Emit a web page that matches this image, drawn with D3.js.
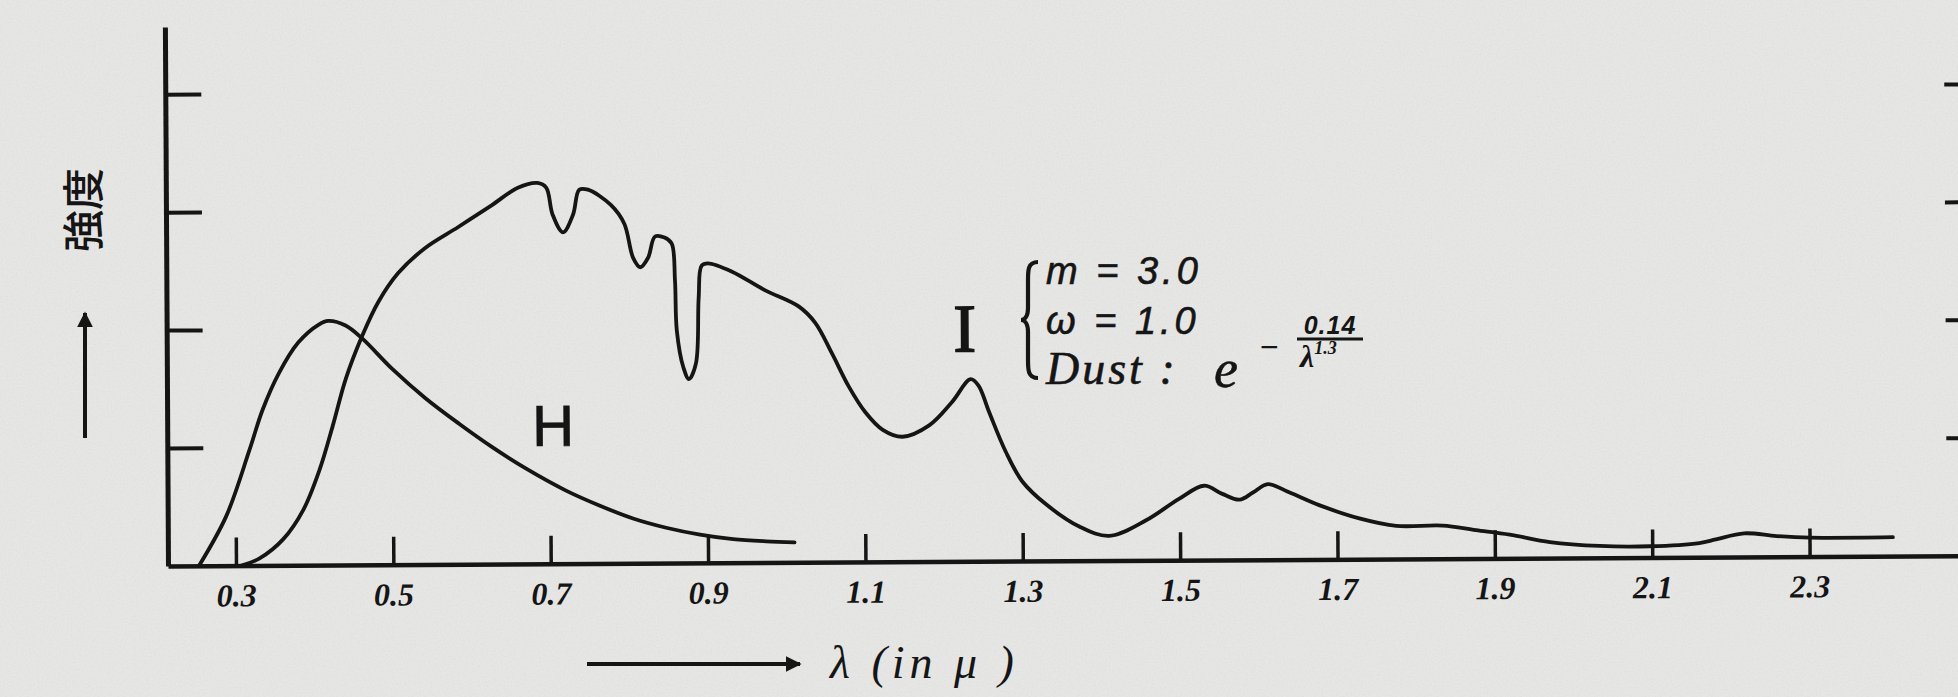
<!DOCTYPE html>
<html>
<head>
<meta charset="utf-8">
<script src="https://cdn.jsdelivr.net/npm/d3@7"></script>
<style>
  html, body { margin: 0; padding: 0; background: #e7e7e5; }
  svg { display: block; }
</style>
</head>
<body>
<script>
// Wavelength ticks (micron) and their printed labels
const xTickValues = [0.3, 0.5, 0.7, 0.9, 1.1, 1.3, 1.5, 1.7, 1.9, 2.1, 2.3];
const xTickLabels = ["0.3", "0.5", "0.7", "0.9", "1.1", "1.3", "1.5", "1.7", "1.9", "2.1", "2.3"];
const yTickValues = [1, 2, 3, 4];

// Curve H
const hLambda = [0.253, 0.288, 0.318, 0.335, 0.356, 0.381, 0.407, 0.419, 0.441, 0.462, 0.5, 0.542, 0.585, 0.627, 0.669, 0.72, 0.763, 0.805, 0.847, 0.89, 0.932, 0.974, 1.01];
const hValue  = [0, 0.42, 0.98, 1.32, 1.63, 1.89, 2.04, 2.07, 2.03, 1.92, 1.66, 1.41, 1.19, 0.99, 0.81, 0.62, 0.49, 0.38, 0.30, 0.24, 0.20, 0.18, 0.17];

// Curve I (m = 3.0, w = 1.0, dust-reddened)
const iLambda = [0.307, 0.33, 0.36, 0.386, 0.407, 0.424, 0.441, 0.462, 0.483, 0.508, 0.542, 0.585, 0.627, 0.661, 0.686, 0.697, 0.705, 0.718, 0.731, 0.739, 0.75, 0.779, 0.796, 0.807, 0.816, 0.826, 0.835, 0.847, 0.856, 0.86, 0.862, 0.87, 0.877, 0.886, 0.89, 0.894, 0.902, 0.932, 0.974, 1.017, 1.038, 1.059, 1.08, 1.101, 1.123, 1.148, 1.182, 1.211, 1.235, 1.245, 1.258, 1.279, 1.3, 1.33, 1.372, 1.41, 1.457, 1.499, 1.531, 1.554, 1.576, 1.593, 1.612, 1.639, 1.677, 1.728, 1.775, 1.834, 1.876, 1.919, 1.97, 2.033, 2.097, 2.16, 2.181, 2.217, 2.258, 2.3, 2.406];
const iValue  = [0, 0.06, 0.22, 0.47, 0.81, 1.18, 1.58, 1.94, 2.23, 2.47, 2.68, 2.86, 3.04, 3.19, 3.23, 3.19, 2.96, 2.81, 2.96, 3.17, 3.17, 3.04, 2.88, 2.59, 2.51, 2.59, 2.77, 2.76, 2.71, 2.40, 1.97, 1.66, 1.56, 1.69, 2.25, 2.52, 2.54, 2.47, 2.31, 2.17, 2.03, 1.77, 1.49, 1.27, 1.12, 1.06, 1.155, 1.35, 1.545, 1.49, 1.27, 0.93, 0.675, 0.48, 0.29, 0.21, 0.34, 0.52, 0.63, 0.56, 0.51, 0.57, 0.64, 0.57, 0.46, 0.345, 0.28, 0.28, 0.24, 0.20, 0.135, 0.10, 0.095, 0.12, 0.15, 0.20, 0.175, 0.16, 0.16];

const W = 1958, H = 697;
const ink = "#151515";
const serif = "'Liberation Serif', serif";
const sans = "'Liberation Sans', sans-serif";

const svg = d3.select("body").append("svg")
  .attr("width", W).attr("height", H);

// paper with a faint grain
const defs = svg.append("defs");
const grain = defs.append("filter").attr("id", "grain")
  .attr("x", 0).attr("y", 0).attr("width", "100%").attr("height", "100%");
grain.append("feTurbulence").attr("type", "fractalNoise")
  .attr("baseFrequency", 0.55).attr("numOctaves", 2).attr("seed", 7);
grain.append("feColorMatrix").attr("type", "matrix")
  .attr("values", "0 0 0 0 0.45  0 0 0 0 0.45  0 0 0 0 0.44  0 0 0 -0.9 0.55");

svg.append("rect").attr("width", W).attr("height", H).attr("fill", "#e6e6e4");
svg.append("rect").attr("width", W).attr("height", H).attr("filter", "url(#grain)").attr("opacity", 0.25);

defs.append("marker").attr("id", "head")
  .attr("viewBox", "0 0 10 10").attr("refX", 9).attr("refY", 5)
  .attr("markerWidth", 4).attr("markerHeight", 4).attr("orient", "auto")
  .append("path").attr("d", "M0,0 L10,5 L0,10 Z").attr("fill", ink);

const x = d3.scaleLinear().domain([0.2136, 2.5]).range([168, 1967]);
const y = d3.scaleLinear().domain([0, 4.57]).range([566, 27]);

// the whole plate sits very slightly tilted
const plate = svg.append("g").attr("transform", "rotate(-0.33, 168, 566)");

// x axis with inward ticks
const xAxis = d3.axisBottom(x)
  .tickValues(xTickValues)
  .tickFormat((d, i) => xTickLabels[i])
  .tickSize(-28).tickSizeOuter(0).tickPadding(18);
const gx = plate.append("g").attr("transform", `translate(0,${y(0)})`).call(xAxis);
gx.select(".domain").attr("stroke", ink).attr("stroke-width", 4.5);
gx.selectAll(".tick line").attr("stroke", ink).attr("stroke-width", 3.5);
gx.selectAll(".tick text")
  .attr("fill", ink)
  .attr("font-family", serif)
  .attr("font-style", "italic").attr("font-weight", "bold")
  .attr("font-size", 32);

// y axis with inward ticks, no labels
const yAxis = d3.axisRight(y).tickValues(yTickValues).tickFormat("")
  .tickSize(36).tickSizeOuter(0);
const gy = plate.append("g").attr("transform", `translate(${x(0.2136)},0)`).call(yAxis);
gy.select(".domain").attr("stroke", ink).attr("stroke-width", 5);
gy.selectAll(".tick line").attr("stroke", ink).attr("stroke-width", 4);

// matching tick marks at the right-hand edge
const yAxisR = d3.axisLeft(y).tickValues(yTickValues).tickFormat("")
  .tickSize(14).tickSizeOuter(0);
const gyr = plate.append("g").attr("transform", `translate(${x(2.5) - 6},0)`).call(yAxisR);
gyr.select(".domain").remove();
gyr.selectAll(".tick line").attr("stroke", ink).attr("stroke-width", 4);

// spectra
const line = d3.line()
  .x(d => x(d[0])).y(d => y(d[1]))
  .curve(d3.curveCatmullRom.alpha(0.5));

plate.append("path")
  .datum(d3.zip(hLambda, hValue))
  .attr("d", line)
  .attr("fill", "none").attr("stroke", ink).attr("stroke-width", 3.8)
  .attr("stroke-linejoin", "round").attr("stroke-linecap", "round");

plate.append("path")
  .datum(d3.zip(iLambda, iValue))
  .attr("d", line)
  .attr("fill", "none").attr("stroke", ink).attr("stroke-width", 3.8)
  .attr("stroke-linejoin", "round").attr("stroke-linecap", "round");

// curve labels
plate.append("text")
  .attr("x", x(0.704)).attr("y", y(1.0))
  .attr("text-anchor", "middle")
  .attr("font-family", sans)
  .attr("font-size", 58).attr("fill", ink)
  .attr("stroke", ink).attr("stroke-width", 0.8)
  .text("H");

plate.append("text")
  .attr("x", x(1.228)).attr("y", y(1.78))
  .attr("text-anchor", "middle")
  .attr("font-family", serif)
  .attr("font-size", 68).attr("fill", ink)
  .attr("stroke", ink).attr("stroke-width", 1.6)
  .text("I");

// parameter block for curve I
const note = svg.append("g").attr("fill", ink);
const bx = 1038, byTop = 262, byBot = 378, byMid = (byTop + byBot) / 2;
note.append("path")
  .attr("d", `M${bx},${byTop} C${bx - 10},${byTop} ${bx - 10},${byTop + 8} ${bx - 10},${byTop + 18}
              L${bx - 10},${byMid - 12} C${bx - 10},${byMid - 4} ${bx - 13},${byMid} ${bx - 17},${byMid}
              C${bx - 13},${byMid} ${bx - 10},${byMid + 4} ${bx - 10},${byMid + 12}
              L${bx - 10},${byBot - 18} C${bx - 10},${byBot - 8} ${bx - 10},${byBot} ${bx},${byBot}`)
  .attr("fill", "none").attr("stroke", ink).attr("stroke-width", 4.2);

note.append("text").attr("x", 1046).attr("y", 284)
  .attr("font-family", sans).attr("font-style", "italic")
  .attr("font-size", 38).attr("letter-spacing", 4)
  .attr("stroke", ink).attr("stroke-width", 0.6)
  .text("m = 3.0");
note.append("text").attr("x", 1046).attr("y", 334)
  .attr("font-family", sans).attr("font-style", "italic")
  .attr("font-size", 38).attr("letter-spacing", 4)
  .attr("stroke", ink).attr("stroke-width", 0.6)
  .text("ω = 1.0");
note.append("text").attr("x", 1046).attr("y", 384)
  .attr("font-family", serif).attr("font-style", "italic")
  .attr("font-size", 46).attr("letter-spacing", 3)
  .attr("stroke", ink).attr("stroke-width", 0.6)
  .text("Dust :");
note.append("text").attr("x", 1214).attr("y", 387)
  .attr("font-family", serif).attr("font-style", "italic")
  .attr("font-size", 54).attr("stroke", ink).attr("stroke-width", 0.6)
  .text("e");
note.append("text").attr("x", 1260).attr("y", 358)
  .attr("font-family", sans)
  .attr("font-size", 32).text("−");
note.append("text").attr("x", 1330).attr("y", 334).attr("text-anchor", "middle")
  .attr("font-family", sans).attr("font-style", "italic")
  .attr("font-size", 25).attr("font-weight", "bold").attr("letter-spacing", 1)
  .text("0.14");
note.append("line").attr("x1", 1297).attr("x2", 1363).attr("y1", 339).attr("y2", 339)
  .attr("stroke", ink).attr("stroke-width", 3.2);
const den = note.append("text").attr("x", 1300).attr("y", 367)
  .attr("font-family", serif).attr("font-style", "italic")
  .attr("font-size", 32).attr("font-weight", "bold");
den.append("tspan").text("λ");
den.append("tspan").attr("dy", -13).attr("font-size", 18).text("1.3");

// y-axis title with arrow
svg.append("text")
  .attr("transform", "translate(80,210) rotate(-90)")
  .attr("text-anchor", "middle").attr("dominant-baseline", "central")
  .attr("font-family", "'Noto Sans CJK JP', sans-serif")
  .attr("font-size", 42).attr("font-weight", 500).attr("fill", ink)
  .text("強度");

svg.append("line").attr("x1", 85).attr("y1", 438).attr("x2", 85).attr("y2", 313)
  .attr("stroke", ink).attr("stroke-width", 4).attr("marker-end", "url(#head)");

// x-axis title with arrow
svg.append("line").attr("x1", 587).attr("y1", 664).attr("x2", 800).attr("y2", 664)
  .attr("stroke", ink).attr("stroke-width", 4).attr("marker-end", "url(#head)");
svg.append("text").attr("x", 830).attr("y", 678)
  .attr("font-family", serif).attr("font-style", "italic")
  .attr("font-size", 46).attr("letter-spacing", 5).attr("fill", ink)
  .text("λ (in μ )");
</script>
</body>
</html>
